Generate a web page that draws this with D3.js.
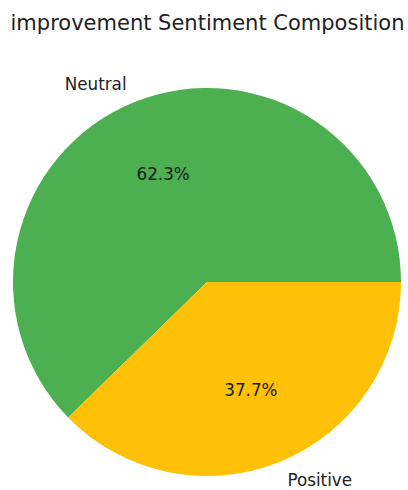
<!DOCTYPE html>
<html>
<head>
<meta charset="utf-8">
<script src="https://cdn.jsdelivr.net/npm/d3@7"></script>
<style>
  html, body { margin: 0; padding: 0; background: #fff; }
  svg { display: block; }
  text { font-family: "DejaVu Sans", sans-serif; }
</style>
</head>
<body>
<svg id="chart" width="408" height="490"></svg>
<script>
// Sentiment shares for the "improvement" topic
const categories = ["Neutral", "Positive"];
const shares = [62.3, 37.7];
const sliceColors = ["#4CAF50", "#FFC107"];
const chartTitle = "improvement Sentiment Composition";

const width = 408, height = 490;
const cx = 207, cy = 282, radius = 194;

const svg = d3.select("#chart");

svg.append("text")
  .attr("x", 207.5)
  .attr("y", 30)
  .attr("text-anchor", "middle")
  .attr("font-size", 21)
  .attr("fill", "#222")
  .text(chartTitle);

const data = categories.map((c, i) => ({ label: c, value: shares[i], color: sliceColors[i] }));

// Counter-clockwise from 3 o'clock, as a classic pie would lay it out.
// d3 angles run clockwise from 12 o'clock, so map: a_d3 = PI/2 - a_ccw
const pie = d3.pie().value(d => d.value).sort(null)
  .startAngle(Math.PI / 2)
  .endAngle(Math.PI / 2 - 2 * Math.PI);

const arcs = pie(data);
const arc = d3.arc().innerRadius(0).outerRadius(radius);

const g = svg.append("g").attr("transform", `translate(${cx},${cy})`);

g.selectAll("path.slice")
  .data(arcs)
  .join("path")
  .attr("class", "slice")
  .attr("d", arc)
  .attr("fill", d => d.data.color);

const mid = d => (d.startAngle + d.endAngle) / 2;
const pos = (d, k) => [k * radius * Math.sin(mid(d)), -k * radius * Math.cos(mid(d))];

// category labels just outside the rim
g.selectAll("text.label")
  .data(arcs)
  .join("text")
  .attr("class", "label")
  .attr("x", d => pos(d, 1.1)[0])
  .attr("y", d => pos(d, 1.1)[1])
  .attr("dy", "0.35em")
  .attr("text-anchor", d => pos(d, 1.1)[0] < 0 ? "end" : "start")
  .attr("font-size", 16.8)
  .attr("fill", "#222")
  .text(d => d.data.label);

// percentage labels inside each slice
g.selectAll("text.pct")
  .data(arcs)
  .join("text")
  .attr("class", "pct")
  .attr("x", d => pos(d, 0.6)[0])
  .attr("y", d => pos(d, 0.6)[1])
  .attr("dy", "0.35em")
  .attr("text-anchor", "middle")
  .attr("font-size", 16.8)
  .attr("fill", "#1a1a1a")
  .text(d => d.data.value.toFixed(1) + "%");
</script>
</body>
</html>
